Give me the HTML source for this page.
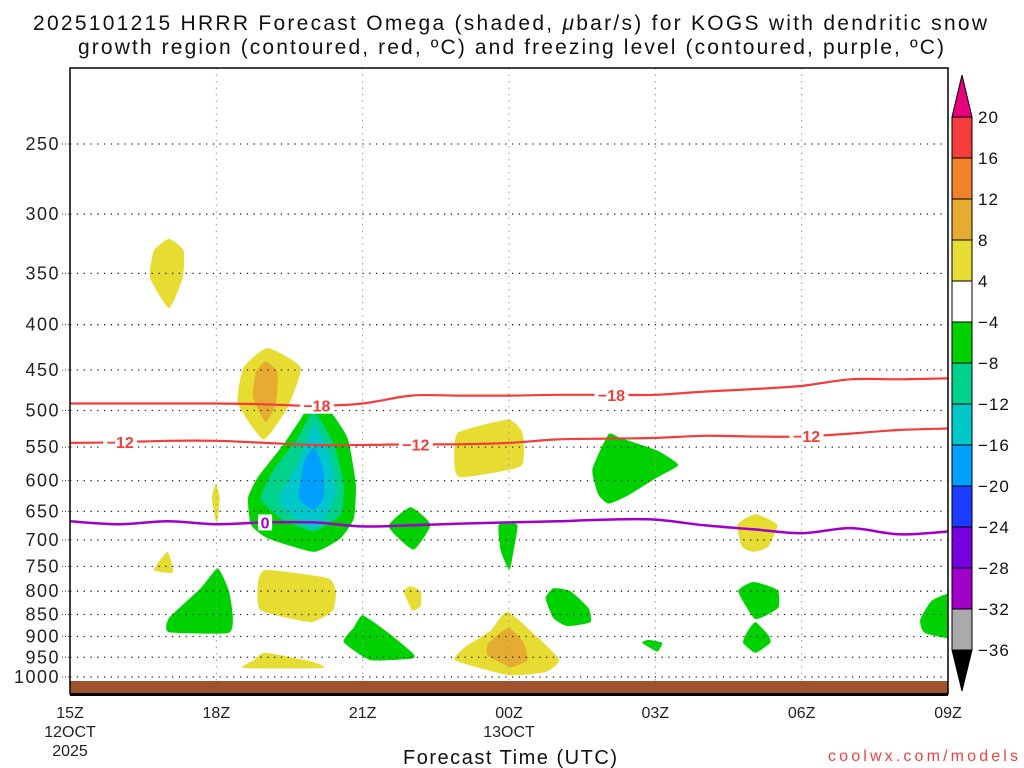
<!DOCTYPE html>
<html><head><meta charset="utf-8"><style>
html,body{margin:0;padding:0;background:#fff;}
svg{display:block;font-family:"Liberation Sans",sans-serif;}
</style></head><body>
<svg id="chart" width="1024" height="768" viewBox="0 0 1024 768" xmlns="http://www.w3.org/2000/svg">
<text x="33" y="30" textLength="954" lengthAdjust="spacing" font-size="21" fill="#111">2025101215 HRRR Forecast Omega (shaded, <tspan font-style="italic">μ</tspan>bar/s) for KOGS with dendritic snow</text>
<text x="78" y="54" textLength="866" lengthAdjust="spacing" font-size="21" fill="#111">growth region (contoured, red, ºC) and freezing level (contoured, purple, ºC)</text>
<g id="fills"></g>
<g id="grid"></g>
<g id="lines"></g>
<rect x="70" y="681" width="878" height="13" fill="#a0522d"/>
<rect x="70" y="68" width="878" height="626" fill="none" stroke="#000" stroke-width="1.5"/>
<line x1="70" y1="694.5" x2="948" y2="694.5" stroke="#000" stroke-width="3"/>
<g id="axes"></g>
<g id="cbar"></g>
<text x="403" y="764" textLength="214" lengthAdjust="spacing" font-size="20" fill="#111">Forecast Time (UTC)</text>
<text x="828" y="761" textLength="190" lengthAdjust="spacing" font-size="16" fill="#f04040">coolwx.com/models</text>
</svg>
<script>
// ---- data ----
const presTicks = [250,300,350,400,450,500,550,600,650,700,750,800,850,900,950,1000];
const timeTicks = [0,3,6,9,12,15,18];
const timeLabels = ["15Z","18Z","21Z","00Z","03Z","06Z","09Z"];
const dateLabels = [["12OCT","2025"],[],[],["13OCT"],[],[],[]];
const iso18 = [491,491,491,491,492,494,491,481,481,481,480,480,480,476,473,469,461,461,460];
const iso12 = [544,543,541,541,544,547,547,546,546,544,539,538,537,534,535,535,531,526,524];
const iso0  = [667,672,667,672,669,669,676,674,671,669,667,664,664,674,681,688,679,690,685];
const iso18Labels = [5.06,11.1];
const iso12Labels = [1.03,7.09,15.1];
const iso0Labels = [4.0];
const cbarLevels = [20,16,12,8,4,-4,-8,-12,-16,-20,-24,-28,-32,-36];
const cbarColors = ["#f43c3c","#f0822a","#e6ac32","#e6dc32","#ffffff","#00d200","#00d28c","#00c8c8","#00a0ff","#1e3cff","#7800dc","#a000c8","#aaaaaa"];
// omega blobs: [level color, [[hour, hPa],...]]
const blobs = [
 ["#e6dc32",[[2.03,320],[2.33,330],[2.31,354],[2.03,383],[1.64,354],[1.72,330]]],
 ["#e6dc32",[[4.05,425],[4.73,447],[4.46,496],[3.97,539],[3.44,491],[3.56,447]]],
 ["#e6ac32",[[4.01,440],[4.26,453],[4.22,491],[4.01,515],[3.75,483],[3.81,453]]],
 ["#00d200",[[5.0,485],[5.28,496],[5.69,537],[5.86,605],[5.82,662],[5.55,697],[5.0,722],[4.05,697],[3.71,673],[3.65,628],[3.85,595],[4.38,546],[4.73,511]]],
 ["#00d28c",[[5.0,502],[5.41,546],[5.61,605],[5.55,655],[5.0,685],[4.32,662],[3.91,628],[4.18,583],[4.67,537]]],
 ["#00c8c8",[[5.0,519],[5.35,566],[5.45,617],[5.28,655],[5.0,680],[4.46,650],[4.28,628],[4.67,574]]],
 ["#00a0ff",[[5.0,551],[5.2,583],[5.2,628],[5.0,647],[4.69,628],[4.79,574]]],
 ["#e6dc32",[[2.99,605],[3.07,628],[3.01,673],[2.91,628]]],
 ["#00d200",[[6.98,643],[7.39,673],[7.04,718],[6.53,676]]],
 ["#00d200",[[8.79,673],[9.17,673],[9.09,722],[9.01,757],[8.83,720]]],
 ["#e6dc32",[[2.0,722],[2.11,762],[1.72,757]]],
 ["#00d200",[[3.03,754],[3.26,800],[3.34,858],[3.24,892],[2.03,890],[2.03,858],[2.68,794]]],
 ["#e6dc32",[[4.01,757],[5.28,773],[5.45,800],[5.39,841],[4.94,867],[3.91,841],[3.85,785]]],
 ["#e6dc32",[[6.98,790],[7.19,800],[7.19,831],[7.02,841],[6.84,800]]],
 ["#00d200",[[6.0,852],[6.51,890],[7.02,939],[7.02,953],[6.16,957],[5.61,913],[5.82,879]]],
 ["#e6dc32",[[4.01,939],[5.0,962],[5.18,977],[3.56,977],[3.77,957]]],
 ["#e6dc32",[[8.99,845],[10.01,952],[9.75,987],[8.99,995],[7.9,958],[8.1,925],[8.62,887]]],
 ["#e6ac32",[[8.99,880],[9.3,915],[9.38,957],[9.03,974],[8.56,945],[8.58,915]]],
 ["#e6dc32",[[7.95,530],[8.99,512],[9.28,531],[9.24,578],[8.01,595],[7.88,574]]],
 ["#00d200",[[11.04,532],[11.28,537],[12.04,555],[12.47,576],[12.04,595],[11.43,624],[11.04,637],[10.83,622],[10.71,583]]],
 ["#e6dc32",[[14.05,655],[14.5,673],[14.31,713],[14.01,722],[13.78,713],[13.68,673]]],
 ["#00d200",[[9.91,794],[10.26,800],[10.63,836],[10.67,867],[10.2,876],[9.91,858],[9.75,815]]],
 ["#00d200",[[11.86,908],[12.14,915],[12.04,936],[11.73,915]]],
 ["#00d200",[[14.01,781],[14.5,797],[14.52,835],[14.05,860],[13.7,800]]],
 ["#00d200",[[14.05,867],[14.31,896],[14.36,915],[14.05,939],[13.8,915],[13.88,890]]],
 ["#00d200",[[18.3,800],[18.3,905],[17.53,892],[17.43,862],[17.69,818]]]
];
// ---- scales ----
const X0=70, X1=948;
function xs(h){return X0+(X1-X0)*h/18;}
function ys(p){return 677+384.5*Math.log(p/1000);}
const NS="http://www.w3.org/2000/svg";
function mk(tag,attrs,parent){const e=document.createElementNS(NS,tag);for(const k in attrs)e.setAttribute(k,attrs[k]);parent.appendChild(e);return e;}
function smoothClosed(pts,k){
  const n=pts.length;let d="M"+pts[0][0].toFixed(1)+","+pts[0][1].toFixed(1);
  for(let i=0;i<n;i++){const p0=pts[(i-1+n)%n],p1=pts[i],p2=pts[(i+1)%n],p3=pts[(i+2)%n];
    const c1=[p1[0]+(p2[0]-p0[0])*k,p1[1]+(p2[1]-p0[1])*k],c2=[p2[0]-(p3[0]-p1[0])*k,p2[1]-(p3[1]-p1[1])*k];
    d+="C"+c1.map(v=>v.toFixed(1)).join(",")+" "+c2.map(v=>v.toFixed(1)).join(",")+" "+p2[0].toFixed(1)+","+p2[1].toFixed(1);}
  return d+"Z";
}
function smoothOpen(pts){
  const n=pts.length;let d="M"+pts[0][0].toFixed(1)+","+pts[0][1].toFixed(1);
  for(let i=0;i<n-1;i++){const p0=pts[Math.max(i-1,0)],p1=pts[i],p2=pts[i+1],p3=pts[Math.min(i+2,n-1)];
    const c1=[p1[0]+(p2[0]-p0[0])/6,p1[1]+(p2[1]-p0[1])/6],c2=[p2[0]-(p3[0]-p1[0])/6,p2[1]-(p3[1]-p1[1])/6];
    d+="C"+c1.map(v=>v.toFixed(1)).join(",")+" "+c2.map(v=>v.toFixed(1)).join(",")+" "+p2[0].toFixed(1)+","+p2[1].toFixed(1);}
  return d;
}
const svg=document.getElementById('chart');
const defs=mk('defs',{},svg);const cp=mk('clipPath',{id:'plotclip'},defs);mk('rect',{x:X0,y:68,width:X1-X0,height:626},cp);
// fills
const gF=document.getElementById('fills');gF.setAttribute('clip-path','url(#plotclip)');
blobs.forEach((b,i)=>{
  const pts=b[1].map(q=>[xs(q[0]),ys(q[1])]);
  const el=mk('path',{d:smoothClosed(pts,1/12),fill:b[0]},gF);
  
  
});
// grid
const gG=document.getElementById('grid');
presTicks.forEach(p=>{
  const el=mk('line',{x1:X0,x2:X1,y1:ys(p),y2:ys(p),stroke:'#222','stroke-width':1.3,'stroke-dasharray':'1.3,5.5'},gG);
  
  
});
timeTicks.forEach(h=>{
  if(h===0||h===18)return;
  const el=mk('line',{x1:xs(h),x2:xs(h),y1:68,y2:694,stroke:'#999','stroke-width':1,'stroke-dasharray':'1.5,5'},gG);
  
  
});
// isotherm lines
const gL=document.getElementById('lines');
function drawIso(arr,color,w,name,labels,txt){
  const pts=arr.map((p,i)=>[xs(i),ys(p)]);
  const el=mk('path',{d:smoothOpen(pts),fill:'none',stroke:color,'stroke-width':w},gL);
  
  
  labels.forEach(h=>{
    const i=Math.floor(h),f=h-i;const p=arr[i]+(arr[Math.min(i+1,arr.length-1)]-arr[i])*f;
    const x=xs(h),y=ys(p);const wdt=txt.length*10+4;
    const r=mk('rect',{x:x-wdt/2,y:y-8,width:wdt,height:16,fill:'#fff'},gL);
    
    
    const t=mk('text',{x:x,y:y+6,'text-anchor':'middle','font-size':16,'font-weight':'bold',fill:color},gL);
    t.textContent=txt;
    
    
  });
}
drawIso(iso18,'#f43c3c',2.2,'isotherm-minus-18',iso18Labels,'−18');
drawIso(iso12,'#f43c3c',2.2,'isotherm-minus-12',iso12Labels,'−12');
drawIso(iso0,'#a000c8',2.5,'freezing-level',iso0Labels,'0');
// axes labels
const gA=document.getElementById('axes');
presTicks.forEach(p=>{
  const t=mk('text',{x:60,y:ys(p)+6,'text-anchor':'end','font-size':18,'letter-spacing':'1.5',fill:'#222'},gA);
  t.textContent=p;
  
  
  const l=mk('line',{x1:62,x2:69,y1:ys(p),y2:ys(p),stroke:'#444','stroke-width':1,'stroke-dasharray':'1,2'},gA);
  
  
});
timeTicks.forEach((h,i)=>{
  const t=mk('text',{x:xs(h),y:718,'text-anchor':'middle','font-size':16,fill:'#222'},gA);
  t.textContent=timeLabels[i];
  
  
  dateLabels[i].forEach((s,j)=>{
    const d=mk('text',{x:xs(h),y:737+j*19,'text-anchor':'middle','font-size':16,fill:'#222'},gA);
    d.textContent=s;
    
    
  });
});
// colorbar
const gC=document.getElementById('cbar');
const CB0=117,CBS=41,CX=952,CW=20;
mk('polygon',{points:`${CX},${CB0} ${CX+CW},${CB0} ${CX+CW/2},75`,fill:'#e8007f',stroke:'#000','stroke-width':1},gC);
cbarColors.forEach((c,i)=>{
  const r=mk('rect',{x:CX,y:CB0+i*CBS,width:CW,height:CBS,fill:c,stroke:'#000','stroke-width':1},gC);
  
  
});
const yb=CB0+cbarColors.length*CBS;
mk('polygon',{points:`${CX},${yb} ${CX+CW},${yb} ${CX+CW/2},691`,fill:'#000',stroke:'#000','stroke-width':1},gC);
cbarLevels.forEach((v,i)=>{
  const t=mk('text',{x:978,y:CB0+i*CBS+6,'font-size':17,'letter-spacing':'1',fill:'#111'},gC);
  t.textContent=v<0?'−'+Math.abs(v):String(v);
  
  
});
</script>
</body></html>
